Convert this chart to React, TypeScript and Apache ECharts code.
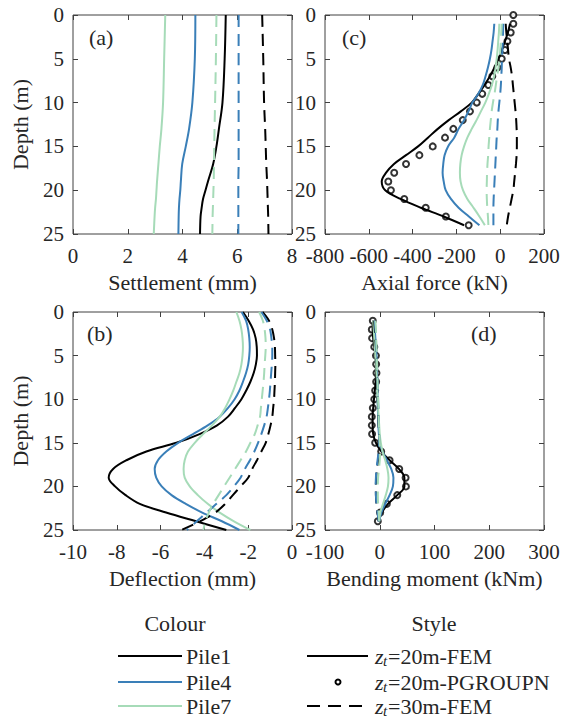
import React, { useEffect, useRef } from "react";
import * as echarts from "echarts";

// ---------------- DATA ----------------
// (a) Settlement (mm) vs depth
const DEPTH_A = [0, 5, 10, 13, 15, 17, 19, 20, 21, 22, 23, 25];
const SET_P1_20 = [5.58, 5.54, 5.46, 5.33, 5.24, 5.12, 4.93, 4.84, 4.75, 4.7, 4.66, 4.64];
const SET_P4_20 = [4.47, 4.45, 4.36, 4.24, 4.12, 3.99, 3.94, 3.92, 3.89, 3.87, 3.86, 3.85];
const SET_P7_20 = [3.37, 3.33, 3.29, 3.23, 3.17, 3.12, 3.07, 3.05, 3.03, 3.0, 2.98, 2.95];
const SET_P1_30 = [6.91, 6.95, 6.98, 7.02, 7.04, 7.06, 7.09, 7.1, 7.11, 7.12, 7.13, 7.14];
const SET_P4_30 = [6.05, 6.05, 6.05, 6.05, 6.05, 6.05, 6.04, 6.04, 6.04, 6.04, 6.04, 6.04];
const SET_P7_30 = [5.24, 5.22, 5.19, 5.17, 5.16, 5.15, 5.14, 5.13, 5.12, 5.11, 5.1, 5.09];

// (c) Axial force (kN) vs depth
const DEPTH_C = [1, 2, 3, 4, 5, 6, 7, 8, 9, 10, 11, 12, 13, 14, 15, 16, 17, 18, 19, 20, 21, 22, 23, 24];
const AX_P1_20 = [45, 35, 22, 7, -8, -26, -47, -72, -100, -130, -180, -235, -285, -330, -375, -430, -485, -521, -541, -525, -455, -362, -258, -165];
const AX_P4_20 = [-27, -30, -35, -40, -47, -56, -67, -80, -100, -127, -145, -165, -190, -210, -238, -254, -260, -263, -258, -249, -225, -190, -143, -95];
const AX_P7_20 = [-4, -6, -9, -12, -16, -21, -28, -38, -52, -68, -88, -108, -130, -150, -165, -176, -182, -184, -181, -170, -150, -122, -95, -70];
const AX_P1_30 = [25, 28, 32, 36, 40, 48, 54, 58, 62, 66, 70, 73, 75, 76, 76, 75, 72, 68, 64, 60, 52, 44, 36, 30];
const AX_P4_30 = [14, 13, 12, 10, 8, 7, 5, 3, 0, -4, -8, -11, -13, -16, -18, -20, -22, -24, -26, -28, -30, -31, -31, -31];
const AX_P7_30 = [7, 5, 3, 0, -3, -8, -14, -20, -26, -33, -39, -43, -47, -50, -53, -55, -58, -60, -61, -62, -61, -59, -56, -54];
const DEPTH_C_PG = [0, 1, 2, 3, 4, 5, 6, 7, 8, 9, 10, 11, 12, 13, 14, 15, 16, 17, 18, 19, 20, 21, 22, 23, 24];
const AX_P1_PG = [60, 60, 48, 33, 22, 7, -13, -36, -54, -82, -107, -138, -171, -214, -252, -308, -369, -430, -484, -511, -499, -438, -340, -248, -144];

// (b) Deflection (mm) vs depth
const DEPTH_B = [0, 1, 2, 3, 4, 5, 6, 7, 8, 9, 10, 11, 12, 13, 14, 15, 16, 17, 18, 19, 20, 21, 22, 23, 24, 25];
const DEF_P1_20 = [-2.24, -1.98, -1.78, -1.66, -1.61, -1.6, -1.65, -1.75, -1.9, -2.09, -2.31, -2.6, -2.92, -3.42, -4.22, -5.28, -6.65, -7.56, -8.17, -8.37, -8.08, -7.6, -6.95, -5.75, -4.38, -3.0];
const DEF_P4_20 = [-2.3, -2.1, -2.0, -1.95, -1.93, -1.95, -2.0, -2.1, -2.24, -2.4, -2.62, -2.92, -3.3, -3.85, -4.52, -5.2, -5.74, -6.12, -6.27, -6.2, -5.95, -5.5, -4.85, -4.1, -3.2, -2.4];
const DEF_P7_20 = [-2.54, -2.4, -2.31, -2.26, -2.24, -2.26, -2.31, -2.4, -2.54, -2.68, -2.85, -3.05, -3.3, -3.65, -4.06, -4.44, -4.75, -4.9, -4.95, -4.9, -4.67, -4.3, -3.85, -3.3, -2.65, -1.9];
const DEF_P1_30 = [-1.35, -1.05, -0.9, -0.82, -0.78, -0.77, -0.76, -0.77, -0.78, -0.8, -0.82, -0.86, -0.9, -0.98, -1.08, -1.2, -1.4, -1.6, -1.82, -2.0, -2.35, -2.7, -3.05, -3.5, -4.2, -5.05];
const DEF_P4_30 = [-1.4, -1.15, -1.0, -0.94, -0.9, -0.9, -0.92, -0.95, -0.98, -1.01, -1.05, -1.1, -1.16, -1.27, -1.4, -1.55, -1.72, -1.92, -2.15, -2.35, -2.65, -3.0, -3.45, -3.9, -4.35, -4.8];
const DEF_P7_30 = [-1.5, -1.33, -1.25, -1.21, -1.2, -1.22, -1.25, -1.27, -1.3, -1.34, -1.38, -1.42, -1.46, -1.57, -1.7, -1.9, -2.1, -2.35, -2.6, -2.85, -3.1, -3.35, -3.6, -3.8, -3.95, -4.05];

// (d) Bending moment (kNm) vs depth
const DEPTH_D = [1, 2, 3, 4, 5, 6, 7, 8, 9, 10, 11, 12, 13, 14, 15, 16, 17, 18, 19, 20, 21, 22, 23, 24];
const BM_P1_20 = [-12, -13, -12, -10, -8, -7, -7, -7.5, -9, -10.5, -12, -13, -13, -12, -7, 3, 18, 35, 45, 45, 32, 15, 4, -2];
const BM_P4_20 = [-10, -9, -8, -7, -6, -5, -5, -4.5, -4, -4, -3.5, -3, -2.5, -1.5, 0, 5, 13, 21, 25, 24, 18, 10, 3, -1];
const BM_P7_20 = [-12, -11, -10, -9, -8, -7, -6, -5, -4.5, -4, -3, -2, -1, 0, 2, 5, 10, 14, 16, 15, 11, 6, 1, -1];
const BM_P1_30 = [-10, -9, -8, -7, -6, -5.5, -5, -4.5, -4, -3.5, -3, -2.5, -2, -1.5, -1, -1.5, -3, -5, -6.5, -7, -7, -6, -4, -2];
const BM_P4_30 = [-9, -8, -7, -6.5, -6, -5, -4.5, -4, -3.5, -3, -2.5, -2, -1.5, -1, -1, -2, -4, -6, -7, -7.5, -7, -6, -4, -2];
const BM_P7_30 = [-8, -7, -6.5, -6, -5.5, -5, -4.5, -4, -3.5, -3, -2.5, -2, -1.5, -1, 0, 0.5, 0, -1.5, -3, -3.5, -3.5, -3, -2, -1];
const BM_P1_PG = [-12.7, -14.5, -14, -10, -7, -6.6, -6, -6.6, -8.4, -10, -12.7, -14.5, -14.5, -14, -8.4, 2.6, 18, 35.6, 47.2, 47.8, 32, 13, 0.8, -3.5];

// axes
const DEPTH_TICKS = [0, 5, 10, 15, 20, 25];
const X_RANGES = [
  { min: 0, max: 8, interval: 2, name: "Settlement (mm)" },
  { min: -800, max: 200, interval: 200, name: "Axial force (kN)" },
  { min: -10, max: 0, interval: 2, name: "Deflection (mm)" },
  { min: -100, max: 300, interval: 100, name: "Bending moment (kNm)" },
];
const PANEL_LABELS = ["(a)", "(c)", "(b)", "(d)"];
const PILES = ["Pile1", "Pile4", "Pile7"];
const STYLES = ["=20m-FEM", "=20m-PGROUPN", "=30m-FEM"];

// ---------------- STYLE ----------------
const FONT = "Liberation Serif";
const TXT = "#262626";
const AXC = "#404040";
const COLORS = ["#000000", "#3a7fb8", "#a6dbb8"];
const DASH = [12, 7];
const GRIDS = [
  { left: 73, top: 15, width: 219, height: 219 },
  { left: 325, top: 15, width: 219, height: 219 },
  { left: 73, top: 312, width: 219, height: 218 },
  { left: 325, top: 312, width: 219, height: 218 },
];

function buildOption() {
  const grid = GRIDS.map((g) => ({
    ...g,
    show: true,
    borderColor: AXC,
    borderWidth: 1,
    backgroundColor: "transparent",
    containLabel: false,
  }));
  const xAxis: any[] = [];
  const yAxis: any[] = [];
  const noLine = { show: false, onZero: false };
  GRIDS.forEach((_, gi) => {
    const r = X_RANGES[gi];
    const tick = { show: true, inside: true, length: 5, lineStyle: { color: AXC, width: 1 } };
    xAxis.push({
      gridIndex: gi,
      type: "value",
      position: "bottom",
      min: r.min,
      max: r.max,
      interval: r.interval,
      axisLine: noLine,
      axisTick: tick,
      splitLine: { show: false },
      axisLabel: { margin: 11, fontFamily: FONT, fontSize: 21, color: TXT },
      name: r.name,
      nameLocation: "middle",
      nameGap: 37,
      nameTextStyle: { fontFamily: FONT, fontSize: 22, color: TXT },
    });
    xAxis.push({
      gridIndex: gi,
      type: "value",
      position: "top",
      min: r.min,
      max: r.max,
      interval: r.interval,
      axisLine: noLine,
      axisTick: tick,
      splitLine: { show: false },
      axisLabel: { show: false },
    });
    yAxis.push({
      gridIndex: gi,
      type: "value",
      position: "left",
      inverse: true,
      min: DEPTH_TICKS[0],
      max: DEPTH_TICKS[DEPTH_TICKS.length - 1],
      interval: DEPTH_TICKS[1] - DEPTH_TICKS[0],
      axisLine: noLine,
      axisTick: tick,
      splitLine: { show: false },
      axisLabel: { margin: 9, fontFamily: FONT, fontSize: 21, color: TXT },
      name: gi % 2 === 0 ? "Depth (m)" : "",
      nameLocation: "middle",
      nameGap: 42,
      nameRotate: 90,
      nameTextStyle: { fontFamily: FONT, fontSize: 22, color: TXT },
    });
    yAxis.push({
      gridIndex: gi,
      type: "value",
      position: "right",
      inverse: true,
      min: DEPTH_TICKS[0],
      max: DEPTH_TICKS[DEPTH_TICKS.length - 1],
      interval: DEPTH_TICKS[1] - DEPTH_TICKS[0],
      axisLine: noLine,
      axisTick: tick,
      splitLine: { show: false },
      axisLabel: { show: false },
    });
  });

  const line = (gi: number, xs: number[], ds: number[], color: string, dashed: boolean) => ({
    type: "line",
    xAxisIndex: gi * 2,
    yAxisIndex: gi * 2,
    data: ds.map((d, k) => [xs[k], d]),
    symbol: "none",
    showSymbol: false,
    smooth: 0.35,
    silent: true,
    lineStyle: { color, width: 2, type: dashed ? DASH : "solid" },
  });
  const circles = (gi: number, xs: number[], ds: number[]) => ({
    type: "scatter",
    xAxisIndex: gi * 2,
    yAxisIndex: gi * 2,
    data: ds.map((d, k) => [xs[k], d]),
    symbol: "emptyCircle",
    symbolSize: 6,
    silent: true,
    itemStyle: { color: "#000", borderColor: "#000", borderWidth: 2 },
  });

  const series: any[] = [
    // (a)
    line(0, SET_P1_20, DEPTH_A, COLORS[0], false),
    line(0, SET_P4_20, DEPTH_A, COLORS[1], false),
    line(0, SET_P7_20, DEPTH_A, COLORS[2], false),
    line(0, SET_P1_30, DEPTH_A, COLORS[0], true),
    line(0, SET_P4_30, DEPTH_A, COLORS[1], true),
    line(0, SET_P7_30, DEPTH_A, COLORS[2], true),
    // (c)
    circles(1, AX_P1_PG, DEPTH_C_PG),
    line(1, AX_P1_20, DEPTH_C, COLORS[0], false),
    line(1, AX_P4_20, DEPTH_C, COLORS[1], false),
    line(1, AX_P7_20, DEPTH_C, COLORS[2], false),
    line(1, AX_P1_30, DEPTH_C, COLORS[0], true),
    line(1, AX_P4_30, DEPTH_C, COLORS[1], true),
    line(1, AX_P7_30, DEPTH_C, COLORS[2], true),
    // (b)
    line(2, DEF_P1_20, DEPTH_B, COLORS[0], false),
    line(2, DEF_P4_20, DEPTH_B, COLORS[1], false),
    line(2, DEF_P7_20, DEPTH_B, COLORS[2], false),
    line(2, DEF_P1_30, DEPTH_B, COLORS[0], true),
    line(2, DEF_P4_30, DEPTH_B, COLORS[1], true),
    line(2, DEF_P7_30, DEPTH_B, COLORS[2], true),
    // (d)
    circles(3, BM_P1_PG, DEPTH_D),
    line(3, BM_P1_20, DEPTH_D, COLORS[0], false),
    line(3, BM_P4_20, DEPTH_D, COLORS[1], false),
    line(3, BM_P7_20, DEPTH_D, COLORS[2], false),
    line(3, BM_P1_30, DEPTH_D, COLORS[0], true),
    line(3, BM_P4_30, DEPTH_D, COLORS[1], true),
    line(3, BM_P7_30, DEPTH_D, COLORS[2], true),
  ];

  const txt = (x: number, y: number, text: string, size = 22, extra: any = {}) => ({
    type: "text",
    x,
    y,
    silent: true,
    style: {
      text,
      fontFamily: FONT,
      fontSize: size,
      fill: TXT,
      align: "left",
      verticalAlign: "middle",
      ...extra,
    },
  });

  const labelPos = [
    [89, 37],
    [342, 37],
    [87, 333],
    [471, 333],
  ];
  const graphic: any[] = [];
  PANEL_LABELS.forEach((l, i) => graphic.push(txt(labelPos[i][0], labelPos[i][1], l, 22)));

  // Legend
  graphic.push(txt(175, 623, "Colour", 22, { align: "center" }));
  graphic.push(txt(434, 623, "Style", 22, { align: "center" }));
  const rows = [656, 682, 706];
  PILES.forEach((p, i) => {
    graphic.push({
      type: "line",
      silent: true,
      shape: { x1: 118, y1: rows[i], x2: 182, y2: rows[i] },
      style: { stroke: COLORS[i], lineWidth: 2 },
    });
    graphic.push(txt(186, rows[i], p, 22));
  });
  // style samples
  graphic.push({
    type: "line",
    silent: true,
    shape: { x1: 307, y1: rows[0], x2: 368, y2: rows[0] },
    style: { stroke: "#000", lineWidth: 2 },
  });
  graphic.push({
    type: "circle",
    silent: true,
    shape: { cx: 338, cy: rows[1], r: 2.5 },
    style: { stroke: "#000", fill: "#fff", lineWidth: 2 },
  });
  graphic.push({
    type: "line",
    silent: true,
    shape: { x1: 307, y1: rows[2], x2: 368, y2: rows[2] },
    style: { stroke: "#000", lineWidth: 2, lineDash: [13, 8] },
  });
  STYLES.forEach((s, i) => {
    graphic.push(txt(375, rows[i], "z", 22, { fontStyle: "italic" }));
    graphic.push(txt(383, rows[i] + 5, "t", 15, { fontStyle: "italic" }));
    graphic.push(txt(388, rows[i], s, 22));
  });

  return {
    animation: false,
    backgroundColor: "#ffffff",
    grid,
    xAxis,
    yAxis,
    series,
    graphic,
  };
}

export default function App() {
  const ref = useRef<HTMLDivElement>(null);
  useEffect(() => {
    if (!ref.current) return;
    const chart = echarts.init(ref.current, undefined, { renderer: "svg" });
    chart.setOption(buildOption() as any);
    return () => chart.dispose();
  }, []);
  return (
    <div
      ref={ref}
      style={{ position: "absolute", left: 0, top: 0, width: 579, height: 718, background: "#fff" }}
    />
  );
}
